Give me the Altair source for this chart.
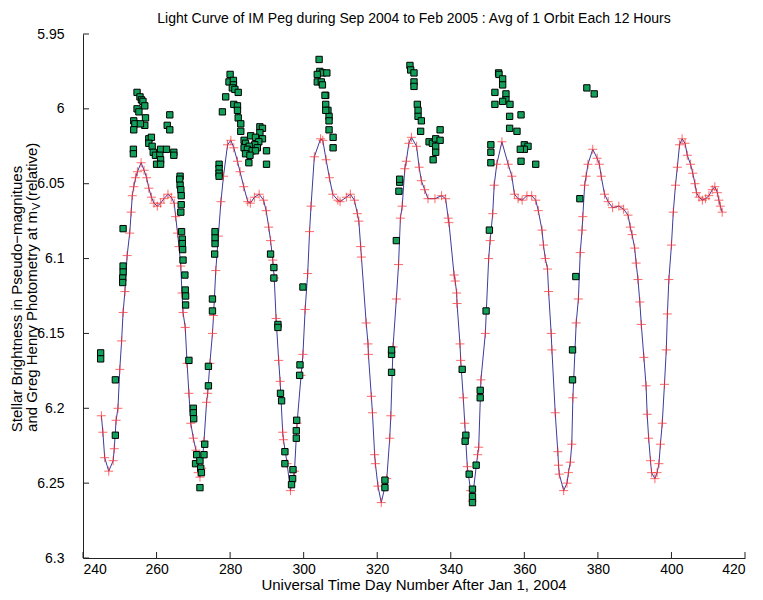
import altair as alt
import pandas as pd

# model light curve (day, magnitude)
curve_day = [
    245.0, 245.4, 245.9, 247.0, 248.2, 248.5, 249.0, 249.5, 250.0, 250.5, 250.9, 251.4,
    252.0, 252.7, 253.1, 253.4, 253.8, 254.3, 254.8, 255.8, 256.6, 257.3, 257.9, 258.6,
    259.3, 260.2, 261.1, 262.0, 263.1, 264.0, 264.8, 265.2, 265.7, 266.1, 266.6, 266.9,
    267.2, 267.8, 268.3, 268.8, 269.3, 270.0, 270.7, 271.3, 271.8, 272.3, 272.9, 273.6,
    273.9, 274.5, 275.2, 275.5, 276.1, 276.8, 277.5, 278.2, 279.3, 280.2, 281.0, 282.0,
    282.7, 283.7, 284.8, 285.5, 286.6, 287.9, 289.1, 289.8, 290.5, 291.0, 291.6, 292.0,
    292.5, 293.2, 293.6, 294.3, 294.5, 295.5, 296.4, 297.5, 298.2, 299.3, 299.8, 300.4,
    301.1, 301.6, 302.0, 302.9, 304.6, 305.2, 306.1, 307.0, 307.9, 309.3, 309.9, 311.6,
    312.7, 313.8, 314.6, 315.0, 315.5, 315.7, 317.0, 317.5, 317.6, 318.4, 318.7, 319.3,
    319.5, 320.2, 321.1, 322.6, 323.4, 323.7, 324.3, 325.2, 325.8, 326.3, 326.8, 327.5,
    327.9, 328.6, 329.3, 330.7, 331.4, 332.0, 332.9, 333.8, 335.7, 337.5, 338.6, 339.3,
    339.5, 340.9, 341.2, 341.6, 341.7, 342.5, 342.7, 343.4, 343.8, 344.5, 345.4, 345.8,
    347.3, 347.6, 348.2, 349.4, 350.3, 350.7, 351.4, 351.8, 352.5, 353.9, 355.6, 356.6,
    357.3, 358.3, 359.4, 360.7, 362.0, 363.1, 363.8, 364.8, 365.2, 365.7, 366.3, 366.6,
    367.3, 367.5, 368.4, 369.1, 369.3, 369.5, 370.7, 371.6, 372.0, 372.5, 372.9, 373.2,
    374.1, 374.7, 375.2, 375.7, 375.9, 376.4, 376.8, 377.3, 378.6, 379.8, 380.4, 380.9,
    381.8, 382.8, 384.0, 385.7, 387.0, 388.2, 388.8, 389.3, 390.0, 390.4, 390.9, 391.4,
    391.8, 392.5, 393.1, 393.4, 393.8, 394.3, 394.6, 395.5, 396.1, 396.6, 397.0, 397.5,
    398.1, 398.6, 398.9, 399.3, 400.0, 400.5, 401.1, 401.6, 402.2, 402.9, 403.7, 404.3,
    405.2, 405.8, 406.4, 406.8, 407.5, 408.4, 409.3, 410.2, 411.1, 411.8, 412.5, 412.9,
    413.3, 413.8,
]
curve_mag = [
    6.205, 6.216, 6.233, 6.242, 6.235, 6.227, 6.208, 6.200, 6.174, 6.155, 6.136, 6.122,
    6.098, 6.083, 6.069, 6.058, 6.052, 6.046, 6.042, 6.036, 6.041, 6.046, 6.053, 6.059,
    6.063, 6.065, 6.063, 6.060, 6.057, 6.059, 6.063, 6.072, 6.083, 6.092, 6.105, 6.123,
    6.136, 6.146, 6.170, 6.190, 6.210, 6.220, 6.228, 6.243, 6.246, 6.240, 6.222, 6.196,
    6.190, 6.170, 6.150, 6.138, 6.108, 6.085, 6.062, 6.045, 6.024, 6.021, 6.026, 6.035,
    6.042, 6.052, 6.062, 6.063, 6.059, 6.057, 6.061, 6.068, 6.079, 6.088, 6.101, 6.113,
    6.140, 6.168, 6.182, 6.216, 6.221, 6.237, 6.255, 6.242, 6.210, 6.178, 6.164, 6.134,
    6.110, 6.082, 6.065, 6.032, 6.020, 6.021, 6.034, 6.046, 6.057, 6.061, 6.062, 6.059,
    6.057, 6.061, 6.070, 6.075, 6.092, 6.099, 6.143, 6.157, 6.164, 6.192, 6.203, 6.231,
    6.237, 6.252, 6.263, 6.247, 6.220, 6.205, 6.159, 6.127, 6.104, 6.073, 6.065, 6.040,
    6.035, 6.023, 6.019, 6.025, 6.039, 6.048, 6.054, 6.060, 6.060, 6.058, 6.060, 6.073,
    6.076, 6.111, 6.115, 6.123, 6.130, 6.157, 6.168, 6.193, 6.210, 6.239, 6.255, 6.262,
    6.231, 6.226, 6.181, 6.150, 6.100, 6.088, 6.070, 6.051, 6.037, 6.022, 6.037, 6.045,
    6.057, 6.060, 6.061, 6.058, 6.058, 6.061, 6.068, 6.081, 6.091, 6.100, 6.107, 6.122,
    6.150, 6.161, 6.203, 6.229, 6.238, 6.244, 6.255, 6.250, 6.243, 6.236, 6.224, 6.193,
    6.143, 6.127, 6.096, 6.081, 6.072, 6.051, 6.045, 6.037, 6.027, 6.033, 6.037, 6.045,
    6.057, 6.062, 6.066, 6.065, 6.067, 6.071, 6.079, 6.084, 6.093, 6.103, 6.114, 6.129,
    6.144, 6.166, 6.185, 6.204, 6.220, 6.235, 6.243, 6.247, 6.243, 6.237, 6.224, 6.210,
    6.184, 6.161, 6.137, 6.114, 6.091, 6.069, 6.051, 6.039, 6.024, 6.020, 6.023, 6.031,
    6.037, 6.043, 6.050, 6.056, 6.059, 6.061, 6.060, 6.058, 6.054, 6.052, 6.056, 6.061,
    6.065, 6.069,
]

# photometry points (green squares)
obs_day = [
    244.8, 244.8, 248.8, 248.8, 250.9, 250.9, 250.9, 250.8, 250.8,
    254.7, 255.5, 255.9, 256.3, 256.8, 254.7, 255.2, 253.8, 254.1, 257.0, 256.8, 255.6,
    253.8, 263.6, 262.9, 263.6, 257.9, 258.6, 257.9, 258.8, 259.1, 261.1, 262.7, 264.7,
    264.7, 253.7, 253.7, 259.7, 260.9, 261.1, 260.0, 261.1,
    266.4, 266.3, 266.4, 266.6, 266.7, 266.7, 266.6, 266.8, 267.0, 267.0, 267.1, 267.2,
    267.7, 267.8, 267.9, 267.9, 268.8, 270.0, 270.0, 270.1, 270.9, 270.6, 271.8, 272.0,
    272.2, 271.8, 272.9, 273.1,
    274.1, 274.1, 275.2, 275.2, 275.8, 275.9, 275.9, 275.9, 277.0, 277.0, 277.0, 277.0,
    280.0, 279.7, 280.9, 280.9, 280.6, 281.3, 282.2, 278.8, 281.0, 282.0, 282.0, 277.9,
    282.2, 282.9, 282.9, 288.1, 288.8, 288.1, 285.6, 286.9, 288.8, 283.8, 287.8, 284.2,
    286.7, 283.8, 285.2, 287.4, 284.7, 286.0, 286.9, 284.2, 289.9, 285.1, 289.9, 285.4,
    291.0, 291.9, 291.9, 293.0, 293.0, 293.7, 294.0, 294.9, 294.9, 297.1, 297.0, 296.7,
    298.1, 298.0, 298.0, 298.9, 299.0, 299.8,
    304.2, 304.4, 305.1, 303.7, 306.3, 303.7, 304.8, 306.0, 306.0, 306.6, 306.9, 306.9,
    306.9, 308.0, 308.0, 305.1, 305.8, 306.0,
    322.1, 322.1, 323.9, 323.9, 323.9, 325.2, 325.9, 326.1, 326.1,
    328.9, 329.1, 330.0, 330.0, 330.0, 330.9, 331.1, 331.1, 332.0, 331.8, 337.1, 334.1,
    335.0, 335.9, 337.1, 335.9, 335.9, 335.2,
    343.1, 348.0, 348.0, 344.1, 343.9, 345.0, 346.9, 345.9, 345.9, 345.9, 349.6,
    350.5, 350.9, 350.9, 350.9,
    353.0, 353.1, 354.1, 354.1, 352.0, 355.0, 355.0, 354.1, 356.1, 352.0, 359.1, 356.0,
    356.0, 358.0, 360.0, 361.0, 360.0, 358.9, 359.1, 363.1,
    374.0, 373.1, 373.1, 375.1, 377.0, 379.0,
]
obs_mag = [
    6.163, 6.167, 6.181, 6.218, 6.080, 6.105, 6.109, 6.113, 6.116,
    5.989, 5.992, 5.994, 5.995, 5.998, 6.000, 6.002, 6.008, 6.010, 6.006, 6.011, 6.010,
    6.014, 6.004, 6.011, 6.014, 6.020, 6.019, 6.023, 6.025, 6.029, 6.027, 6.027, 6.029,
    6.031, 6.027, 6.030, 6.031, 6.031, 6.034, 6.037, 6.037,
    6.045, 6.047, 6.051, 6.054, 6.058, 6.064, 6.069, 6.082, 6.087, 6.090, 6.094, 6.101,
    6.111, 6.121, 6.125, 6.131, 6.168, 6.200, 6.203, 6.207, 6.231, 6.237, 6.235, 6.240,
    6.243, 6.253, 6.231, 6.224,
    6.185, 6.172, 6.135, 6.127, 6.097, 6.090, 6.086, 6.082, 6.037, 6.040, 6.043, 6.045,
    5.977, 5.982, 5.981, 5.984, 5.986, 5.987, 5.989, 5.992, 5.997, 5.998, 6.001, 6.002,
    6.006, 6.010, 6.015, 6.012, 6.013, 6.016, 6.018, 6.019, 6.020, 6.021, 6.022, 6.023,
    6.024, 6.026, 6.025, 6.026, 6.027, 6.028, 6.028, 6.030, 6.028, 6.036, 6.037, 6.031,
    6.097, 6.106, 6.113, 6.144, 6.146, 6.190, 6.195, 6.229, 6.237, 6.241, 6.247, 6.251,
    6.208, 6.215, 6.220, 6.178, 6.171, 6.119,
    5.967, 5.975, 5.976, 5.977, 5.976, 5.982, 5.982, 5.991, 5.997, 6.001, 6.005, 6.008,
    6.014, 6.019, 6.026, 5.984, 5.991, 6.001,
    6.248, 6.253, 6.176, 6.164, 6.161, 6.088, 6.055, 6.049, 6.047,
    5.971, 5.974, 5.976, 5.982, 5.985, 5.997, 6.001, 6.005, 6.008, 6.015, 6.014, 6.022,
    6.023, 6.020, 6.021, 6.025, 6.029, 6.034,
    6.174, 6.188, 6.193, 6.218, 6.222, 6.244, 6.238, 6.254, 6.259, 6.263, 6.135,
    6.081, 6.024, 6.029, 6.036,
    5.976, 5.977, 5.980, 5.984, 5.989, 5.990, 5.994, 5.995, 5.997, 5.997, 6.004, 6.005,
    6.013, 6.015, 6.024, 6.025, 6.027, 6.027, 6.035, 6.037,
    6.112, 6.161, 6.181, 6.060, 5.986, 5.990,
]

x_ticks = [240, 260, 280, 300, 320, 340, 360, 380, 400, 420]
y_ticks = [5.95, 6.0, 6.05, 6.1, 6.15, 6.2, 6.25, 6.3]

title_text = "Light Curve of IM Peg during Sep 2004 to Feb 2005 : Avg of 1 Orbit Each 12 Hours"
x_title = "Universal Time Day Number After Jan 1, 2004"
y_title_1 = "Stellar Brightness in Pseudo\u2212magnitues"
y_title_2 = "and Greg Henry Photometry at m"
y_title_sub = "V"
y_title_3 = "(relative)"

FONT = "Liberation Sans"
W, H = 662, 524

curve = pd.DataFrame({"day": curve_day, "mag": curve_mag})
obs = pd.DataFrame({"day": obs_day, "mag": obs_mag})

xs = alt.Scale(domain=[240, 420], nice=False, zero=False)
ys = alt.Scale(domain=[5.95, 6.3], nice=False, zero=False, reverse=True)

x_enc = alt.X("day:Q", scale=xs, title="",
              axis=alt.Axis(values=x_ticks, ticks=False, grid=False, labelPadding=4,
                            domainColor="#222222",
                            labelFont=FONT, labelFontSize=14, labelColor="black"))
y_enc = alt.Y("mag:Q", scale=ys, title="",
              axis=alt.Axis(values=y_ticks, ticks=False, grid=False, labelPadding=19,
                            format="~g", domainColor="#222222",
                            labelFont=FONT, labelFontSize=14, labelColor="black"))

line = alt.Chart(curve).mark_line(color="#3c3c9c", strokeWidth=1).encode(x=x_enc, y=y_enc)

# thin plus markers
plus = alt.Chart(curve).mark_point(
    shape="M-1,0L1,0M0,-1L0,1", filled=False, color="#ff2a2a", size=81, strokeWidth=1
).encode(x="day:Q", y="mag:Q")

squares = alt.Chart(obs).mark_square(
    size=40, fill="#12a05a", fillOpacity=1, stroke="black", strokeWidth=1
).encode(x="day:Q", y="mag:Q")

# MATLAB style inward ticks
xt = alt.Chart(pd.DataFrame({"day": x_ticks})).mark_rule(color="#222222").encode(
    x="day:Q", y=alt.value(H), y2=alt.value(H - 6))
yt = alt.Chart(pd.DataFrame({"mag": y_ticks})).mark_rule(color="#222222").encode(
    y="mag:Q", x=alt.value(0), x2=alt.value(6))

# axis titles drawn as text (y one has a subscript)
one = pd.DataFrame({"k": [0]})
xlab = alt.Chart(one).mark_text(text=x_title, align="center", baseline="alphabetic",
                                font=FONT, fontSize=15, color="black").encode(
    x=alt.value(W / 2), y=alt.value(H + 32))
ylab1 = alt.Chart(one).mark_text(text=y_title_1, angle=270, align="center", baseline="alphabetic",
                                 font=FONT, fontSize=15, color="black").encode(
    x=alt.value(-61), y=alt.value(265))
ylab2 = alt.Chart(one).mark_text(text=y_title_2, angle=270, align="right", baseline="alphabetic",
                                 font=FONT, fontSize=15, color="black").encode(
    x=alt.value(-46), y=alt.value(177))
ylab_sub = alt.Chart(one).mark_text(text=y_title_sub, angle=270, align="left", baseline="alphabetic",
                                    font=FONT, fontSize=11, color="black").encode(
    x=alt.value(-43), y=alt.value(176))
ylab3 = alt.Chart(one).mark_text(text=y_title_3, angle=270, align="left", baseline="alphabetic",
                                 font=FONT, fontSize=15, color="black").encode(
    x=alt.value(-46), y=alt.value(167))

chart = alt.layer(line, plus, squares, xt, yt, xlab, ylab1, ylab2, ylab_sub, ylab3).properties(
    width=W, height=H,
    autosize=alt.AutoSizeParams(type="none"),
    padding={"left": 75, "top": 26, "right": 10, "bottom": 34},
    title=alt.TitleParams(title_text, font=FONT, fontSize=14, fontWeight="normal",
                          color="black", anchor="middle", offset=1),
).configure_view(strokeWidth=0)

chart.save("out.html", embed_options={"renderer": "svg", "actions": False})
